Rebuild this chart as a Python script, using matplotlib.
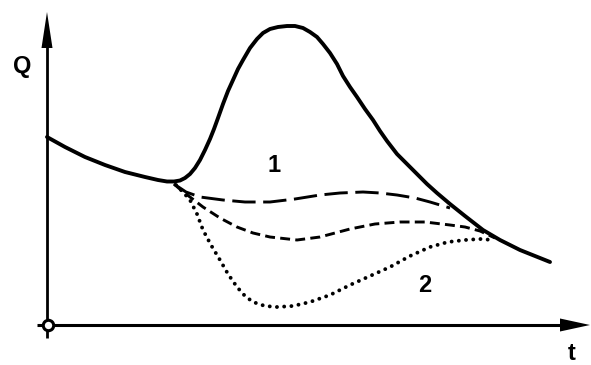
import matplotlib
matplotlib.use("Agg")
import matplotlib.pyplot as plt

# Curves (pixel-like coordinates, y grows downwards)
main_x = [47, 65, 85, 105, 125, 145, 158, 167, 174, 180, 185, 190, 195, 200, 205, 210, 214, 218, 223, 228, 233, 238, 243, 250, 257, 263, 270, 278, 287, 295, 303, 310, 317, 323, 330, 337, 343, 350, 357, 365, 373, 380, 387, 397, 407, 417, 427, 437, 450, 465, 483, 500, 520, 535, 550]
main_y = [137, 147, 157, 165, 172, 177, 180, 181.5, 181.5, 180.5, 178, 174, 168, 160, 150, 139, 129, 118, 104, 91, 80, 69, 60, 48, 39, 33, 29, 27, 26, 26, 28, 32, 37, 44, 53, 64, 76, 87, 97, 109, 120, 131, 141, 154, 164, 174, 184, 193, 204, 216, 230, 240, 250, 256, 262]

long_x = [174, 186, 200, 223, 245, 270, 295, 320, 340, 363, 380, 397, 415, 430, 450]
long_y = [184, 192, 197, 200, 202, 202, 199, 195, 193, 192, 193, 195, 198, 202, 208]

mid_x = [174, 182, 190, 203, 220, 237, 253, 270, 297, 320, 350, 375, 400, 425, 450, 465, 480, 495]
mid_y = [184, 191, 197, 207, 218, 227, 233, 237, 240, 237, 229, 224, 222, 222, 225, 227, 231, 238]

dot_x = [176, 183, 190, 197, 203, 211, 220, 228, 237, 245, 253, 265, 277, 293, 310, 330, 350, 370, 390, 410, 430, 448, 465, 480, 493]
dot_y = [185, 192, 200, 214, 230, 245, 260, 274, 287, 296, 302, 306, 307, 306, 302, 295, 285, 276, 267, 256, 247, 242, 240, 239, 240]

curve_labels = ["1", "2"]
label_x = [274, 425]
label_y = [166, 286]

fig = plt.figure(figsize=(5.91, 3.65), dpi=100)
ax = fig.add_axes([0, 0, 1, 1])
ax.set_xlim(0, 591)
ax.set_ylim(365, 0)
ax.axis("off")

# axes
ax.plot([47, 47], [338, 40], color="black", lw=2.0, solid_capstyle="butt")
ax.plot([37, 565], [325, 325], color="black", lw=2.2, solid_capstyle="butt")
ax.fill([41.5, 47, 52.5], [48, 12, 48], color="black", lw=0)
ax.fill([560, 590, 560], [318.5, 325, 331.5], color="black", lw=0)
ax.plot([48], [325], marker="o", markersize=7.5, markerfacecolor="white",
        markeredgecolor="black", markeredgewidth=2.2, zorder=5)

ax.plot(main_x, main_y, color="black", lw=2.8, solid_joinstyle="round", solid_capstyle="round")
ax.plot(long_x, long_y, color="black", lw=2.1, dashes=(8, 2.6))
ax.plot(mid_x, mid_y, color="black", lw=2.1, dashes=(3.4, 1.8))
ax.plot(dot_x, dot_y, color="black", lw=2.8, dashes=(0.01, 1.85), dash_capstyle="round")

fs = 17
for s, x, y in zip(curve_labels, label_x, label_y):
    ax.text(x, y, s, fontsize=fs, fontweight="bold", family="Liberation Sans",
            ha="center", va="center")
ax.text(22, 66, "Q", fontsize=fs, fontweight="bold", family="Liberation Sans",
        ha="center", va="center")
ax.text(572, 354, "t", fontsize=fs, fontweight="bold", family="Liberation Sans",
        ha="center", va="center")

fig.savefig("out.png", dpi=100, facecolor="white")
